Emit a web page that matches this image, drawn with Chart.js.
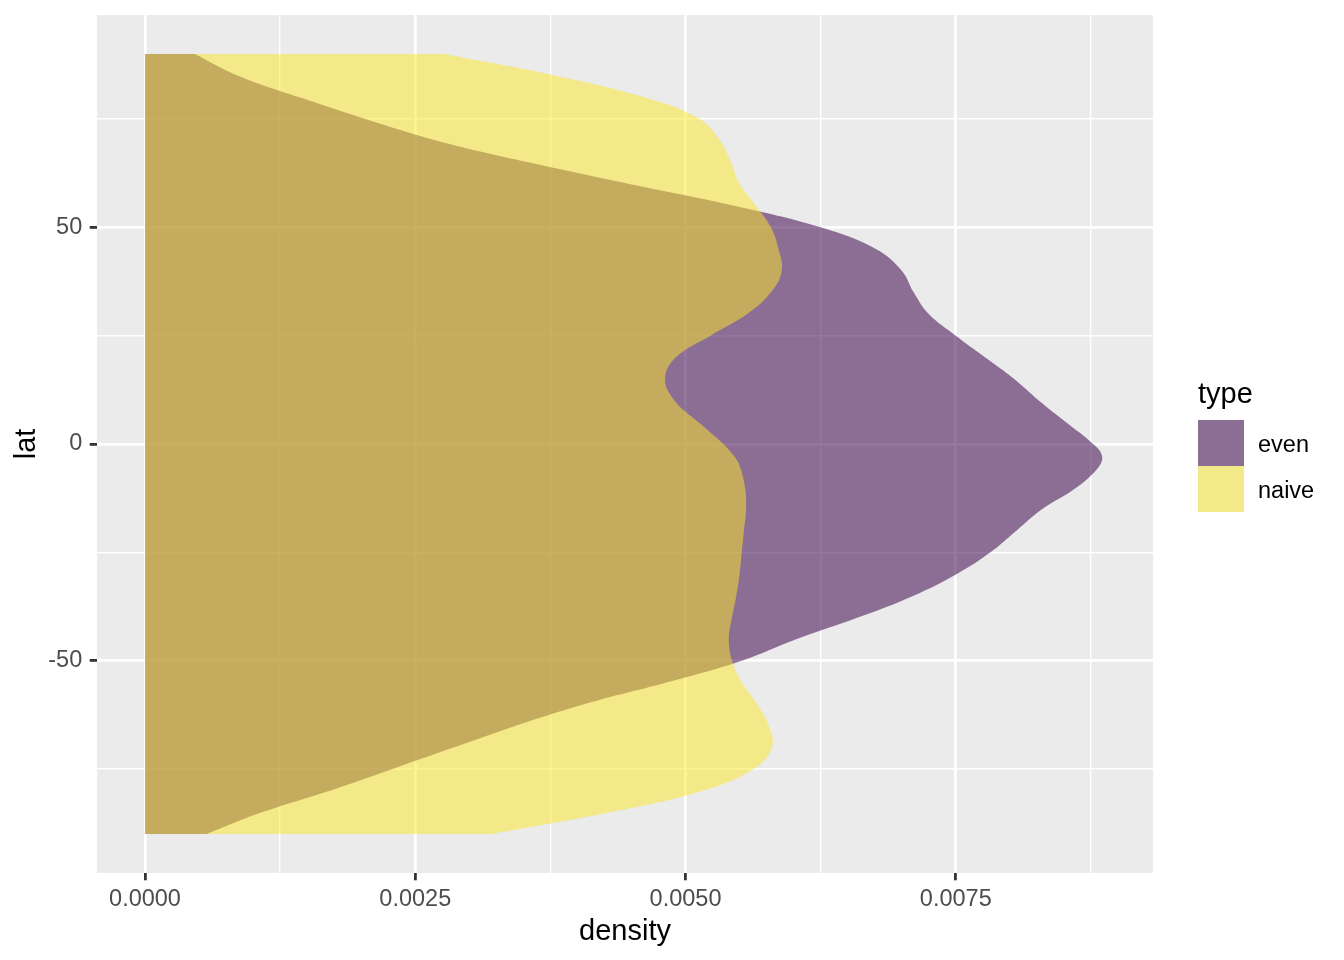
<!DOCTYPE html>
<html>
<head>
<meta charset="utf-8">
<title>density by lat</title>
<script src="https://cdn.jsdelivr.net/npm/chart.js@4.4.1/dist/chart.umd.min.js"></script>
<style>
  body { margin: 0; background: #ffffff; }
  canvas { display: block; }
</style>
</head>
<body>
<canvas id="chart" width="1344" height="960"></canvas>
<script>
/* values */
var lat = [-90, -85, -80, -75, -70, -65, -60, -55, -50, -45, -40, -35, -30, -25, -20, -15, -10, -5, -2.5,
           0, 5, 10, 15, 20, 25, 30, 35, 40, 45, 50, 55, 60, 65, 70, 75, 80, 85, 90];

var evenDensity = [0.00057, 0.00108, 0.00171, 0.00229, 0.00286, 0.00343, 0.00407, 0.00483, 0.00552,
                   0.00603, 0.00660, 0.00711, 0.00751, 0.00782, 0.00806, 0.00830, 0.00862, 0.00883, 0.00885,
                   0.00877, 0.00852, 0.00827, 0.00804, 0.00777, 0.00750, 0.00725, 0.00711, 0.00700, 0.00676,
                   0.00625, 0.00545, 0.00448, 0.00355, 0.00270, 0.00204, 0.00143, 0.00086, 0.00046];

var naiveDensity = [0.00321, 0.00430, 0.00516, 0.00563, 0.00580, 0.00577, 0.00566, 0.00552, 0.00543,
                    0.00540, 0.00543, 0.00547, 0.00550, 0.00552, 0.00554, 0.00556, 0.00555, 0.00550, 0.00544,
                    0.00535, 0.00512, 0.00490, 0.00481, 0.00491, 0.00523, 0.00557, 0.00579, 0.00589, 0.00586,
                    0.00579, 0.00565, 0.00550, 0.00542, 0.00532, 0.00513, 0.00462, 0.00380, 0.00277];

var seriesNames = ['even', 'naive'];

var densityTicks  = [0, 0.00125, 0.0025, 0.00375, 0.005, 0.00625, 0.0075, 0.00875];
var densityLabels = ['0.0000', '', '0.0025', '', '0.0050', '', '0.0075', ''];
var latTicks  = [-75, -50, -25, 0, 25, 50, 75];
var latLabels = ['', '-50', '', '0', '', '50', ''];

/* look */
var fontFamily = '"Liberation Sans", Arial, Helvetica, sans-serif';
var panelColor = '#EBEBEB';
var fillColors = ['rgba(62,8,78,0.55)', 'rgba(253,231,37,0.5)'];

function toPoints(xs) {
  var pts = [];
  for (var i = 0; i < lat.length; i++) {
    pts.push({ x: xs[i], y: lat[i] });
  }
  return pts;
}

/* keep the panel exactly where ggplot put it */
function noLabelPadding(scale) {
  scale.paddingTop = 0;
  scale.paddingBottom = 0;
  scale.paddingLeft = 0;
  scale.paddingRight = 0;
}

/* grey panel behind the grid */
var panelBackground = {
  id: 'panelBackground',
  beforeDraw: function(chart) {
    var a = chart.chartArea;
    var ctx = chart.ctx;
    ctx.save();
    ctx.fillStyle = panelColor;
    ctx.fillRect(a.left, a.top, a.right - a.left, a.bottom - a.top);
    ctx.restore();
  }
};

/* ggplot style legend on the right */
var typeLegend = {
  id: 'typeLegend',
  afterDraw: function(chart) {
    var ctx = chart.ctx;
    var sets = chart.data.datasets;
    var left = 1198;
    var keySize = 46;
    ctx.save();
    ctx.textAlign = 'left';
    ctx.textBaseline = 'alphabetic';
    ctx.fillStyle = '#000000';
    ctx.font = '29px ' + fontFamily;
    ctx.fillText('type', left, 403);
    ctx.font = '23.5px ' + fontFamily;
    for (var i = 0; i < sets.length; i++) {
      var top = 420 + i * keySize;
      ctx.fillStyle = panelColor;
      ctx.fillRect(left, top, keySize, keySize);
      ctx.fillStyle = sets[i].backgroundColor;
      ctx.fillRect(left, top, keySize, keySize);
      ctx.fillStyle = '#000000';
      ctx.fillText(sets[i].label, left + keySize + 14, top + keySize / 2 + 8.5);
    }
    ctx.restore();
  }
};

var chart = new Chart(document.getElementById('chart'), {
  type: 'line',
  data: {
    datasets: [
      {
        label: seriesNames[0],
        data: toPoints(evenDensity),
        fill: { value: 0 },
        backgroundColor: fillColors[0],
        borderColor: 'rgba(0,0,0,0)',
        borderWidth: 0,
        pointRadius: 0,
        tension: 0.4,
        order: 1
      },
      {
        label: seriesNames[1],
        data: toPoints(naiveDensity),
        fill: { value: 0 },
        backgroundColor: fillColors[1],
        borderColor: 'rgba(0,0,0,0)',
        borderWidth: 0,
        pointRadius: 0,
        tension: 0.4,
        order: 0
      }
    ]
  },
  options: {
    indexAxis: 'y',
    responsive: false,
    animation: false,
    devicePixelRatio: 1,
    layout: { padding: { top: 15, right: 191, bottom: 0, left: 0 } },
    plugins: {
      legend: { display: false },
      tooltip: { enabled: false }
    },
    scales: {
      x: {
        type: 'linear',
        position: 'bottom',
        min: -0.000444,
        max: 0.009324,
        afterBuildTicks: function(scale) {
          scale.ticks = densityTicks.map(function(v) { return { value: v }; });
        },
        afterFit: function(scale) {
          scale.height = 87;
          noLabelPadding(scale);
        },
        border: { display: false },
        grid: {
          color: '#FFFFFF',
          lineWidth: function(c) { return densityLabels[c.index] ? 2.8 : 1.4; },
          tickLength: 7.3,
          tickWidth: 2.8,
          tickColor: function(c) { return densityLabels[c.index] ? '#333333' : 'rgba(0,0,0,0)'; }
        },
        ticks: {
          autoSkip: false,
          maxRotation: 0,
          padding: 5,
          color: '#4D4D4D',
          font: { family: fontFamily, size: 23.5 },
          callback: function(value, index) { return densityLabels[index]; }
        },
        title: {
          display: true,
          text: 'density',
          color: '#000000',
          font: { family: fontFamily, size: 29 },
          padding: { top: 0, bottom: 10.5 }
        }
      },
      y: {
        type: 'linear',
        position: 'left',
        min: -99,
        max: 99,
        afterBuildTicks: function(scale) {
          scale.ticks = latTicks.map(function(v) { return { value: v }; });
        },
        afterFit: function(scale) {
          scale.width = 97;
          noLabelPadding(scale);
        },
        border: { display: false },
        grid: {
          color: '#FFFFFF',
          lineWidth: function(c) { return latLabels[c.index] ? 2.8 : 1.4; },
          tickLength: 7.3,
          tickWidth: 2.8,
          tickColor: function(c) { return latLabels[c.index] ? '#333333' : 'rgba(0,0,0,0)'; }
        },
        ticks: {
          autoSkip: false,
          padding: 7.5,
          color: '#4D4D4D',
          font: { family: fontFamily, size: 23.5 },
          callback: function(value, index) { return latLabels[index]; }
        },
        title: {
          display: true,
          text: 'lat',
          color: '#000000',
          font: { family: fontFamily, size: 29 },
          padding: { top: 10, bottom: 0 }
        }
      }
    }
  },
  plugins: [panelBackground, typeLegend]
});
</script>
</body>
</html>
